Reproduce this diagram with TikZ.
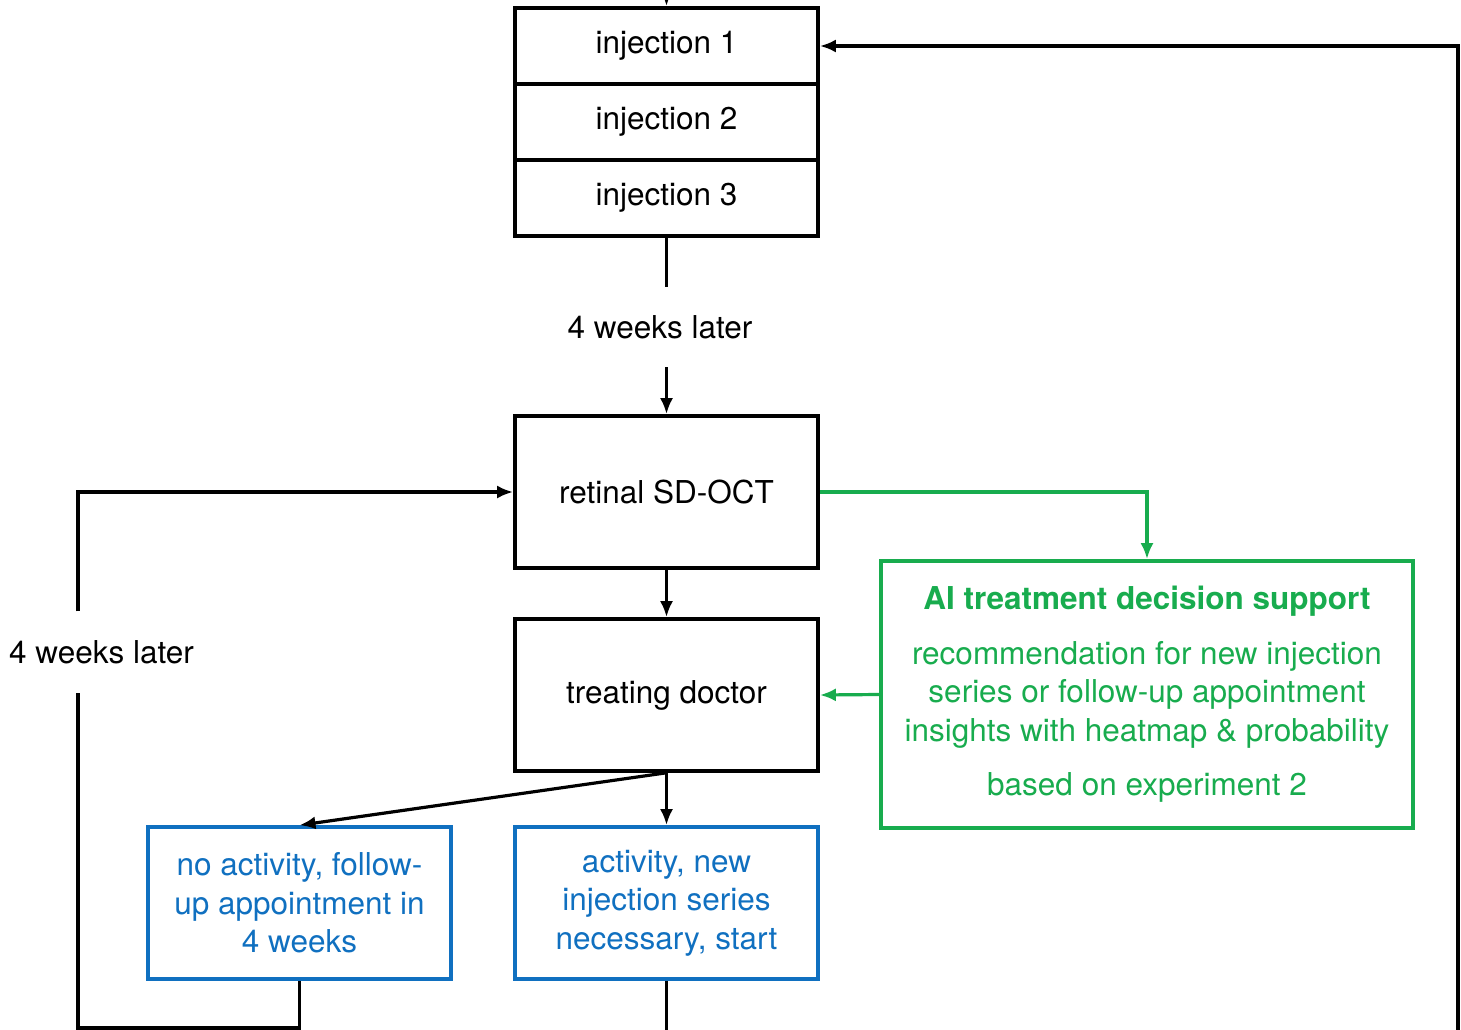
\documentclass[tikz,border=0pt]{standalone}
\usepackage{fontspec}
\setmainfont{TeX Gyre Heros}
\usetikzlibrary{arrows.meta}
\definecolor{aigreen}{RGB}{24,172,78}
\definecolor{decblue}{RGB}{16,112,192}
\tikzset{
    box/.style={draw, line width=3.6pt, minimum width=303pt, inner sep=0pt},
    bluebox/.style={box, draw=decblue, text=decblue, align=center, minimum height=152pt},
    conn/.style={line width=3.2pt, -{Latex[length=16pt,width=13pt]}},
    wire/.style={line width=3.2pt},
}
\begin{document}
\begin{tikzpicture}[x=1pt,y=-1pt,font=\fontsize{31.5}{38.5}\selectfont]
    \useasboundingbox (0,0) rectangle (1461,1030);
    %Injektionen
    \node[box, minimum height=76pt] (ini1) at (666.5,46) {injection 1};
    \node[box, minimum height=76pt] (ini2) at (666.5,122) {injection 2};
    \node[box, minimum height=76pt] (ini3) at (666.5,198) {injection 3};
    %Untersuchung
    \node[box, minimum height=152pt] (oct) at (666.5,492) {retinal SD-OCT};
    \node[box, minimum height=152pt] (doc) at (666.5,695) {treating doctor};
    %Entscheidungen
    \node[bluebox] (noact) at (299.5,903) {no activity, follow-\\up appointment in\\4 weeks};
    \node[bluebox] (act) at (666.5,903) {activity, new\\injection series\\necessary, start};
    %KI
    \node[box, draw=aigreen, text=aigreen, align=center, minimum width=532pt, minimum height=267pt] (ai) at (1147,694.5)
        {\textbf{AI treatment decision support}\\[16pt]
         recommendation for new injection\\
         series or follow-up appointment\\
         insights with heatmap \& probability\\[16pt]
         based on experiment 2};
    %Zeitabstaende
    \node[inner sep=0pt, minimum height=80pt] (wkA) at (660,327) {4 weeks later};
    \node[inner sep=0pt, minimum height=81pt] (wkB) at (101.5,652) {4 weeks later};
    %freie Enden
    \coordinate (top) at (666.5,-20);
    \coordinate (right) at (1458,1040);
    \coordinate (left) at (78,1028);
    \coordinate (actend) at (666.5,1040);
    %Verbindungen
    \draw[conn] (top) -- (ini1.north);
    \draw[conn] (right) |- (ini1.east);
    \draw[wire] (ini3.south) -- (ini3.south |- wkA.north);
    \draw[conn] (oct.north |- wkA.south) -- (oct.north);
    \draw[conn] (oct.south) -- (doc.north);
    \draw[conn] (doc.south) -- (noact.north);
    \draw[conn] (doc.south) -- (act.north);
    \draw[conn, draw=aigreen] (oct.east) -| (ai.north);
    \draw[conn, draw=aigreen] (ai.west) -- (doc.east);
    \draw[wire] (noact.south) |- (left) -- (left |- wkB.south);
    \draw[conn] (left |- wkB.north) |- (oct.west);
    \draw[wire] (act.south) -- (actend);
\end{tikzpicture}
\end{document}
